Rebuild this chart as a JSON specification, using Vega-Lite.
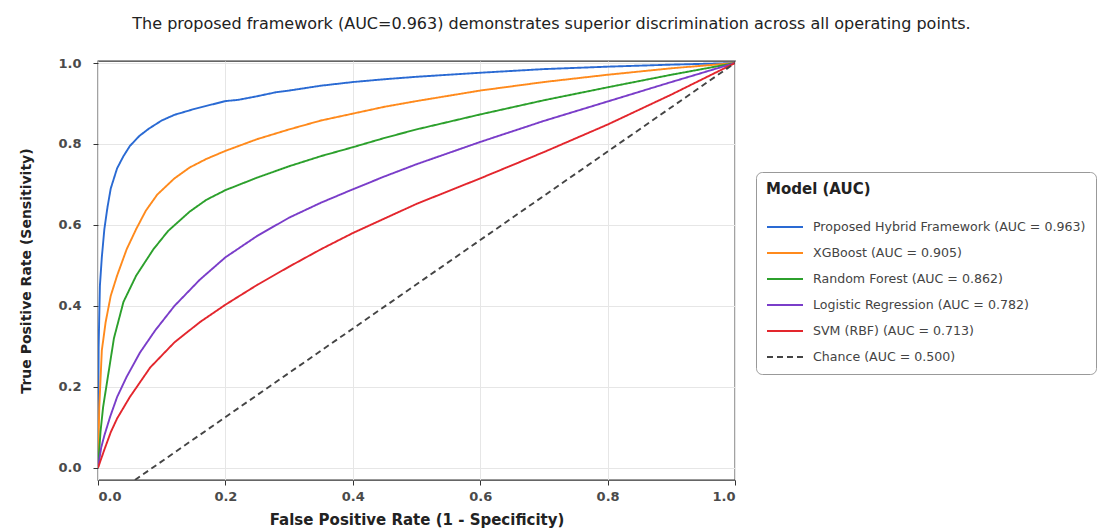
{
  "$schema": "https://vega.github.io/schema/vega-lite/v6.json",
  "width": 637,
  "height": 419,
  "autosize": {"type": "none"},
  "padding": {"left": 98, "top": 61, "right": 366, "bottom": 51},
  "background": "white",
  "title": {
    "text": "The proposed framework (AUC=0.963) demonstrates superior discrimination across all operating points.",
    "anchor": "middle",
    "frame": "group",
    "dx": 135,
    "offset": 25,
    "font": "DejaVu Sans",
    "fontSize": 16,
    "fontWeight": "normal",
    "color": "#222"
  },
  "config": {
    "view": {"stroke": "#333", "strokeWidth": 1.3},
    "axis": {
      "labelFont": "DejaVu Sans",
      "labelFontSize": 13,
      "labelFontWeight": "bold",
      "labelColor": "#4a4a4a",
      "titleFont": "DejaVu Sans",
      "titleFontWeight": "bold",
      "titleColor": "#222",
      "gridColor": "#e6e6e6",
      "gridWidth": 1,
      "domain": false,
      "tickColor": "#333",
      "tickSize": 5
    }
  },
  "data": {
    "values": [
      {"model": "Proposed Hybrid Framework (AUC = 0.963)", "fpr": 0, "tpr": 0},
      {"model": "Proposed Hybrid Framework (AUC = 0.963)", "fpr": 0.001, "tpr": 0.3},
      {"model": "Proposed Hybrid Framework (AUC = 0.963)", "fpr": 0.003, "tpr": 0.45},
      {"model": "Proposed Hybrid Framework (AUC = 0.963)", "fpr": 0.006, "tpr": 0.52},
      {"model": "Proposed Hybrid Framework (AUC = 0.963)", "fpr": 0.01, "tpr": 0.59},
      {"model": "Proposed Hybrid Framework (AUC = 0.963)", "fpr": 0.015, "tpr": 0.645},
      {"model": "Proposed Hybrid Framework (AUC = 0.963)", "fpr": 0.02, "tpr": 0.69},
      {"model": "Proposed Hybrid Framework (AUC = 0.963)", "fpr": 0.03, "tpr": 0.74},
      {"model": "Proposed Hybrid Framework (AUC = 0.963)", "fpr": 0.04, "tpr": 0.77},
      {"model": "Proposed Hybrid Framework (AUC = 0.963)", "fpr": 0.05, "tpr": 0.795},
      {"model": "Proposed Hybrid Framework (AUC = 0.963)", "fpr": 0.065, "tpr": 0.82},
      {"model": "Proposed Hybrid Framework (AUC = 0.963)", "fpr": 0.08, "tpr": 0.838},
      {"model": "Proposed Hybrid Framework (AUC = 0.963)", "fpr": 0.1, "tpr": 0.858},
      {"model": "Proposed Hybrid Framework (AUC = 0.963)", "fpr": 0.12, "tpr": 0.872},
      {"model": "Proposed Hybrid Framework (AUC = 0.963)", "fpr": 0.15, "tpr": 0.886},
      {"model": "Proposed Hybrid Framework (AUC = 0.963)", "fpr": 0.18, "tpr": 0.898},
      {"model": "Proposed Hybrid Framework (AUC = 0.963)", "fpr": 0.2, "tpr": 0.906},
      {"model": "Proposed Hybrid Framework (AUC = 0.963)", "fpr": 0.22, "tpr": 0.909},
      {"model": "Proposed Hybrid Framework (AUC = 0.963)", "fpr": 0.25, "tpr": 0.918},
      {"model": "Proposed Hybrid Framework (AUC = 0.963)", "fpr": 0.28, "tpr": 0.928},
      {"model": "Proposed Hybrid Framework (AUC = 0.963)", "fpr": 0.3, "tpr": 0.932},
      {"model": "Proposed Hybrid Framework (AUC = 0.963)", "fpr": 0.35, "tpr": 0.944},
      {"model": "Proposed Hybrid Framework (AUC = 0.963)", "fpr": 0.4, "tpr": 0.953},
      {"model": "Proposed Hybrid Framework (AUC = 0.963)", "fpr": 0.45, "tpr": 0.96},
      {"model": "Proposed Hybrid Framework (AUC = 0.963)", "fpr": 0.5, "tpr": 0.966},
      {"model": "Proposed Hybrid Framework (AUC = 0.963)", "fpr": 0.6, "tpr": 0.976},
      {"model": "Proposed Hybrid Framework (AUC = 0.963)", "fpr": 0.7, "tpr": 0.985},
      {"model": "Proposed Hybrid Framework (AUC = 0.963)", "fpr": 0.8, "tpr": 0.991},
      {"model": "Proposed Hybrid Framework (AUC = 0.963)", "fpr": 0.9, "tpr": 0.996},
      {"model": "Proposed Hybrid Framework (AUC = 0.963)", "fpr": 1, "tpr": 1},

      {"model": "XGBoost (AUC = 0.905)", "fpr": 0, "tpr": 0},
      {"model": "XGBoost (AUC = 0.905)", "fpr": 0.002, "tpr": 0.15},
      {"model": "XGBoost (AUC = 0.905)", "fpr": 0.006, "tpr": 0.29},
      {"model": "XGBoost (AUC = 0.905)", "fpr": 0.012, "tpr": 0.36},
      {"model": "XGBoost (AUC = 0.905)", "fpr": 0.02, "tpr": 0.425},
      {"model": "XGBoost (AUC = 0.905)", "fpr": 0.03, "tpr": 0.475},
      {"model": "XGBoost (AUC = 0.905)", "fpr": 0.045, "tpr": 0.54},
      {"model": "XGBoost (AUC = 0.905)", "fpr": 0.06, "tpr": 0.59},
      {"model": "XGBoost (AUC = 0.905)", "fpr": 0.075, "tpr": 0.635},
      {"model": "XGBoost (AUC = 0.905)", "fpr": 0.093, "tpr": 0.675},
      {"model": "XGBoost (AUC = 0.905)", "fpr": 0.12, "tpr": 0.715},
      {"model": "XGBoost (AUC = 0.905)", "fpr": 0.144, "tpr": 0.742},
      {"model": "XGBoost (AUC = 0.905)", "fpr": 0.17, "tpr": 0.763},
      {"model": "XGBoost (AUC = 0.905)", "fpr": 0.2, "tpr": 0.783},
      {"model": "XGBoost (AUC = 0.905)", "fpr": 0.25, "tpr": 0.812},
      {"model": "XGBoost (AUC = 0.905)", "fpr": 0.3, "tpr": 0.836},
      {"model": "XGBoost (AUC = 0.905)", "fpr": 0.35, "tpr": 0.858},
      {"model": "XGBoost (AUC = 0.905)", "fpr": 0.4, "tpr": 0.875},
      {"model": "XGBoost (AUC = 0.905)", "fpr": 0.45, "tpr": 0.892},
      {"model": "XGBoost (AUC = 0.905)", "fpr": 0.5, "tpr": 0.906},
      {"model": "XGBoost (AUC = 0.905)", "fpr": 0.6, "tpr": 0.932},
      {"model": "XGBoost (AUC = 0.905)", "fpr": 0.7, "tpr": 0.953},
      {"model": "XGBoost (AUC = 0.905)", "fpr": 0.8, "tpr": 0.971},
      {"model": "XGBoost (AUC = 0.905)", "fpr": 0.9, "tpr": 0.987},
      {"model": "XGBoost (AUC = 0.905)", "fpr": 1, "tpr": 1},

      {"model": "Random Forest (AUC = 0.862)", "fpr": 0, "tpr": 0},
      {"model": "Random Forest (AUC = 0.862)", "fpr": 0.004, "tpr": 0.09},
      {"model": "Random Forest (AUC = 0.862)", "fpr": 0.008, "tpr": 0.15},
      {"model": "Random Forest (AUC = 0.862)", "fpr": 0.014, "tpr": 0.21},
      {"model": "Random Forest (AUC = 0.862)", "fpr": 0.025, "tpr": 0.32},
      {"model": "Random Forest (AUC = 0.862)", "fpr": 0.04, "tpr": 0.41},
      {"model": "Random Forest (AUC = 0.862)", "fpr": 0.06, "tpr": 0.475},
      {"model": "Random Forest (AUC = 0.862)", "fpr": 0.087, "tpr": 0.54},
      {"model": "Random Forest (AUC = 0.862)", "fpr": 0.11, "tpr": 0.585},
      {"model": "Random Forest (AUC = 0.862)", "fpr": 0.144, "tpr": 0.633},
      {"model": "Random Forest (AUC = 0.862)", "fpr": 0.17, "tpr": 0.662},
      {"model": "Random Forest (AUC = 0.862)", "fpr": 0.2, "tpr": 0.686},
      {"model": "Random Forest (AUC = 0.862)", "fpr": 0.25, "tpr": 0.717},
      {"model": "Random Forest (AUC = 0.862)", "fpr": 0.3, "tpr": 0.745},
      {"model": "Random Forest (AUC = 0.862)", "fpr": 0.35, "tpr": 0.77},
      {"model": "Random Forest (AUC = 0.862)", "fpr": 0.4, "tpr": 0.792},
      {"model": "Random Forest (AUC = 0.862)", "fpr": 0.45, "tpr": 0.815},
      {"model": "Random Forest (AUC = 0.862)", "fpr": 0.5, "tpr": 0.836},
      {"model": "Random Forest (AUC = 0.862)", "fpr": 0.6, "tpr": 0.873},
      {"model": "Random Forest (AUC = 0.862)", "fpr": 0.7, "tpr": 0.908},
      {"model": "Random Forest (AUC = 0.862)", "fpr": 0.8, "tpr": 0.94},
      {"model": "Random Forest (AUC = 0.862)", "fpr": 0.9, "tpr": 0.971},
      {"model": "Random Forest (AUC = 0.862)", "fpr": 1, "tpr": 1},

      {"model": "Logistic Regression (AUC = 0.782)", "fpr": 0, "tpr": 0},
      {"model": "Logistic Regression (AUC = 0.782)", "fpr": 0.005, "tpr": 0.05},
      {"model": "Logistic Regression (AUC = 0.782)", "fpr": 0.01, "tpr": 0.08},
      {"model": "Logistic Regression (AUC = 0.782)", "fpr": 0.019, "tpr": 0.126},
      {"model": "Logistic Regression (AUC = 0.782)", "fpr": 0.03, "tpr": 0.175},
      {"model": "Logistic Regression (AUC = 0.782)", "fpr": 0.045, "tpr": 0.225},
      {"model": "Logistic Regression (AUC = 0.782)", "fpr": 0.066, "tpr": 0.285},
      {"model": "Logistic Regression (AUC = 0.782)", "fpr": 0.09, "tpr": 0.34},
      {"model": "Logistic Regression (AUC = 0.782)", "fpr": 0.12, "tpr": 0.4},
      {"model": "Logistic Regression (AUC = 0.782)", "fpr": 0.16, "tpr": 0.465},
      {"model": "Logistic Regression (AUC = 0.782)", "fpr": 0.2, "tpr": 0.52},
      {"model": "Logistic Regression (AUC = 0.782)", "fpr": 0.25, "tpr": 0.573},
      {"model": "Logistic Regression (AUC = 0.782)", "fpr": 0.3, "tpr": 0.618},
      {"model": "Logistic Regression (AUC = 0.782)", "fpr": 0.35, "tpr": 0.655},
      {"model": "Logistic Regression (AUC = 0.782)", "fpr": 0.4, "tpr": 0.688},
      {"model": "Logistic Regression (AUC = 0.782)", "fpr": 0.45, "tpr": 0.72},
      {"model": "Logistic Regression (AUC = 0.782)", "fpr": 0.5, "tpr": 0.75},
      {"model": "Logistic Regression (AUC = 0.782)", "fpr": 0.6, "tpr": 0.805},
      {"model": "Logistic Regression (AUC = 0.782)", "fpr": 0.7, "tpr": 0.857},
      {"model": "Logistic Regression (AUC = 0.782)", "fpr": 0.8, "tpr": 0.905},
      {"model": "Logistic Regression (AUC = 0.782)", "fpr": 0.9, "tpr": 0.953},
      {"model": "Logistic Regression (AUC = 0.782)", "fpr": 1, "tpr": 1},

      {"model": "SVM (RBF) (AUC = 0.713)", "fpr": 0, "tpr": 0},
      {"model": "SVM (RBF) (AUC = 0.713)", "fpr": 0.01, "tpr": 0.045},
      {"model": "SVM (RBF) (AUC = 0.713)", "fpr": 0.02, "tpr": 0.088},
      {"model": "SVM (RBF) (AUC = 0.713)", "fpr": 0.03, "tpr": 0.122},
      {"model": "SVM (RBF) (AUC = 0.713)", "fpr": 0.05, "tpr": 0.175},
      {"model": "SVM (RBF) (AUC = 0.713)", "fpr": 0.082, "tpr": 0.248},
      {"model": "SVM (RBF) (AUC = 0.713)", "fpr": 0.12, "tpr": 0.31},
      {"model": "SVM (RBF) (AUC = 0.713)", "fpr": 0.16, "tpr": 0.36},
      {"model": "SVM (RBF) (AUC = 0.713)", "fpr": 0.2, "tpr": 0.403},
      {"model": "SVM (RBF) (AUC = 0.713)", "fpr": 0.25, "tpr": 0.452},
      {"model": "SVM (RBF) (AUC = 0.713)", "fpr": 0.3, "tpr": 0.497},
      {"model": "SVM (RBF) (AUC = 0.713)", "fpr": 0.35, "tpr": 0.54},
      {"model": "SVM (RBF) (AUC = 0.713)", "fpr": 0.4, "tpr": 0.58},
      {"model": "SVM (RBF) (AUC = 0.713)", "fpr": 0.5, "tpr": 0.652},
      {"model": "SVM (RBF) (AUC = 0.713)", "fpr": 0.6, "tpr": 0.715},
      {"model": "SVM (RBF) (AUC = 0.713)", "fpr": 0.7, "tpr": 0.78},
      {"model": "SVM (RBF) (AUC = 0.713)", "fpr": 0.8, "tpr": 0.848},
      {"model": "SVM (RBF) (AUC = 0.713)", "fpr": 0.9, "tpr": 0.922},
      {"model": "SVM (RBF) (AUC = 0.713)", "fpr": 1, "tpr": 1},

      {"model": "Chance (AUC = 0.500)", "fpr": 0.058, "tpr": -0.03},
      {"model": "Chance (AUC = 0.500)", "fpr": 1, "tpr": 1}
    ]
  },
  "mark": {"type": "line", "strokeWidth": 1.9, "clip": true},
  "encoding": {
    "x": {
      "field": "fpr", "type": "quantitative",
      "scale": {"domain": [0, 1], "nice": false, "zero": false},
      "axis": {"values": [0, 0.2, 0.4, 0.6, 0.8, 1], "format": ".1f", "title": "False Positive Rate (1 - Specificity)", "titleFontSize": 15, "labelPadding": 5, "titlePadding": 9}
    },
    "y": {
      "field": "tpr", "type": "quantitative",
      "scale": {"domain": [-0.03, 1.005], "nice": false, "zero": false},
      "axis": {"values": [0, 0.2, 0.4, 0.6, 0.8, 1], "format": ".1f", "title": "True Positive Rate (Sensitivity)", "titleFontSize": 14, "labelPadding": 12, "titlePadding": 24}
    },
    "color": {
      "field": "model", "type": "nominal",
      "scale": {
        "domain": ["Proposed Hybrid Framework (AUC = 0.963)", "XGBoost (AUC = 0.905)", "Random Forest (AUC = 0.862)", "Logistic Regression (AUC = 0.782)", "SVM (RBF) (AUC = 0.713)", "Chance (AUC = 0.500)"],
        "range": ["#2a6ad3", "#ff8a1c", "#2ca02c", "#7a3dc9", "#e3262d", "#444444"]
      },
      "legend": {
        "title": "Model (AUC)",
        "orient": "none",
        "legendX": 658,
        "legendY": 111,
        "symbolType": "stroke",
        "symbolSize": 1296,
        "symbolStrokeWidth": 2,
        "labelFont": "DejaVu Sans",
        "labelFontSize": 12.6,
        "labelColor": "#444",
        "labelLimit": 400,
        "labelOffset": 9,
        "titleFont": "DejaVu Sans",
        "titleFontSize": 15,
        "titleFontWeight": "bold",
        "titleColor": "#222",
        "titlePadding": 11,
        "rowPadding": -10.5,
        "strokeColor": "#999",
        "fillColor": "white",
        "cornerRadius": 6,
        "padding": 10
      }
    },
    "strokeDash": {
      "field": "model", "type": "nominal",
      "scale": {
        "domain": ["Proposed Hybrid Framework (AUC = 0.963)", "XGBoost (AUC = 0.905)", "Random Forest (AUC = 0.862)", "Logistic Regression (AUC = 0.782)", "SVM (RBF) (AUC = 0.713)", "Chance (AUC = 0.500)"],
        "range": [[1, 0], [1, 0], [1, 0], [1, 0], [1, 0], [6, 4]]
      },
      "legend": null
    }
  }
}
